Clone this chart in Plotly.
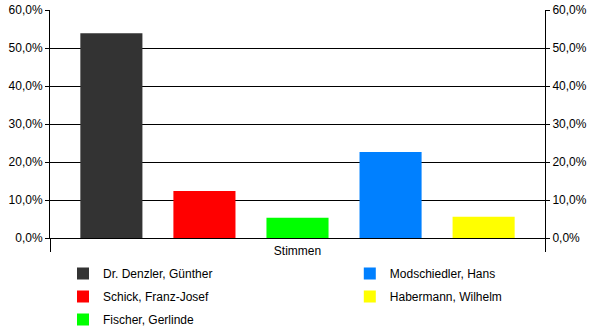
import plotly.graph_objects as go

category = ["Stimmen"]
candidates = ["Dr. Denzler, Günther", "Schick, Franz-Josef", "Fischer, Gerlinde",
              "Modschiedler, Hans", "Habermann, Wilhelm"]
values = [53.9, 12.4, 5.3, 22.6, 5.6]
colors = ["#333333", "#ff0000", "#00ff00", "#0080ff", "#ffff00"]
legend_ids = ["legend", "legend", "legend", "legend2", "legend2"]
tick_vals = [0, 10, 20, 30, 40, 50, 60]
tick_text = ["0,0%", "10,0%", "20,0%", "30,0%", "40,0%", "50,0%", "60,0%"]

FONT = dict(family="Liberation Sans, Arial, sans-serif", size=12, color="#000000")

fig = go.Figure()
for name, v, c, lg in zip(candidates, values, colors, legend_ids):
    fig.add_trace(go.Bar(x=category, y=[v], name=name, marker=dict(color=c, line=dict(width=0)),
                         legend=lg, legendgroup=name))
# invisible trace to drive the mirrored right axis
fig.add_trace(go.Scatter(x=category, y=[None], yaxis="y2", showlegend=False, hoverinfo="skip"))

yax = dict(range=[0, 60], tickvals=tick_vals, ticktext=tick_text,
           showgrid=True, gridcolor="#000000", gridwidth=1, showline=True, linecolor="#000000",
           linewidth=1, ticks="outside", ticklen=4, tickcolor="#000000", tickfont=FONT,
           zeroline=False, fixedrange=True)

fig.update_layout(
    width=600, height=333,
    margin=dict(l=50, r=55, t=10, b=95, autoexpand=False),
    paper_bgcolor="white", plot_bgcolor="white",
    barmode="group", bargap=0.06, bargroupgap=0.333,
    font=FONT,
    xaxis=dict(showline=True, linecolor="#000000", linewidth=1, tickson="boundaries",
               ticks="outside", ticklen=13, tickcolor="#000000", tickfont=FONT,
               ticklabelstandoff=2, tickangle=0, showgrid=False, zeroline=False),
    yaxis=yax,
    yaxis2=dict(yax, overlaying="y", side="right", showgrid=False),
    legend=dict(xref="container", yref="container", x=0.105, y=1 - 259 / 333,
                xanchor="left", yanchor="top", orientation="v", font=FONT,
                tracegroupgap=4, bgcolor="rgba(0,0,0,0)"),
    legend2=dict(xref="container", yref="container", x=0.583, y=1 - 259 / 333,
                 xanchor="left", yanchor="top", orientation="v", font=FONT,
                 tracegroupgap=4, bgcolor="rgba(0,0,0,0)"),
    showlegend=True,
)

fig.write_html("out.html")
